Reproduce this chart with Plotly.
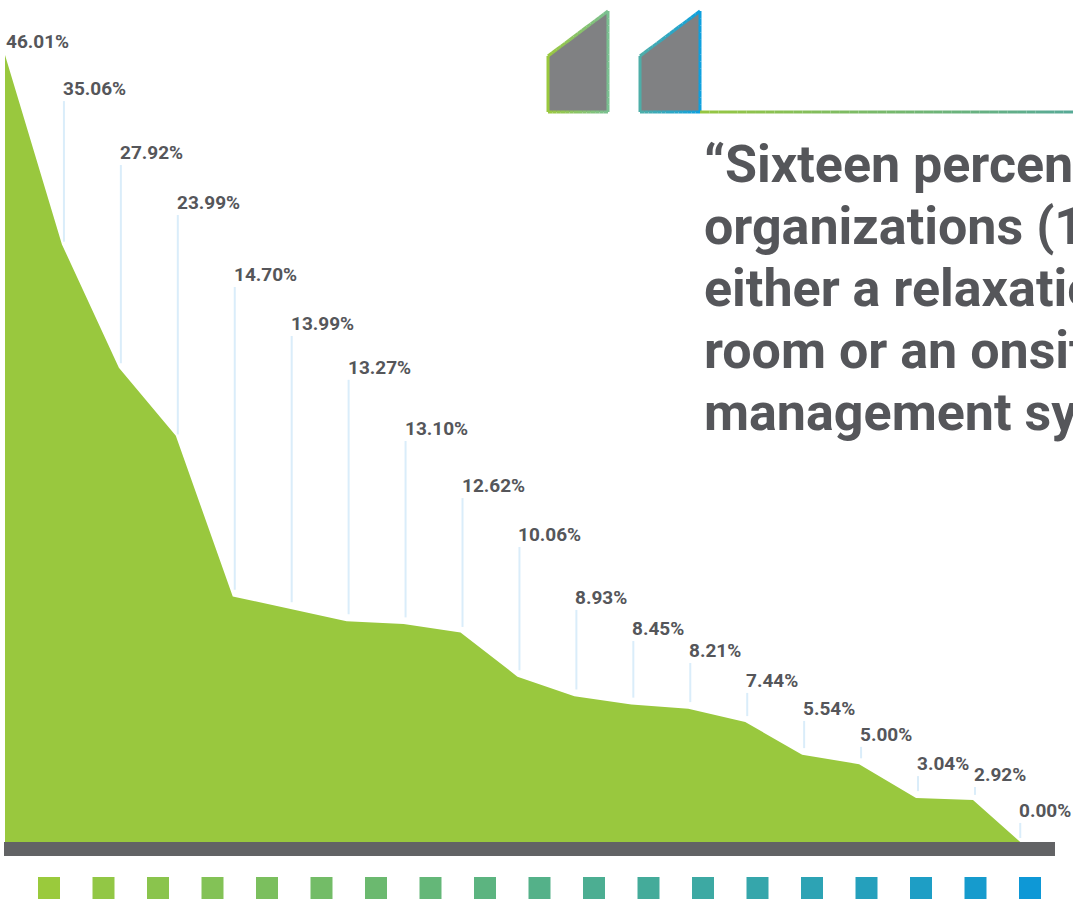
import numpy as np
import plotly.graph_objects as go

# ---------------- data ----------------
values = [46.01, 35.06, 27.92, 23.99, 14.70, 13.99, 13.27, 13.10, 12.62, 10.06,
          8.93, 8.45, 8.21, 7.44, 5.54, 5.00, 3.04, 2.92, 0.00]
value_labels = [f"{v:.2f}%" for v in values]
# staggered heights (in % units) at which each value label sits
label_levels = [46.01, 43.35, 39.65, 36.76, 32.6, 29.77, 27.23, 23.69, 20.39, 17.56,
                13.92, 12.12, 10.85, 9.12, 7.5, 6.0, 4.31, 3.68, 1.6]
quote_lines = ["“Sixteen percent of",
               "organizations (16%) offer",
               "either a relaxation",
               "room or an onsite stress",
               "management system.”"]

# ---------------- layout helpers ----------------
W, H = 1073, 901
X0_PX, DX_PX = 5.0, 56.94          # pixel of first point, pixel step between points
Y0_PX, DY_PX = 850.6, 17.29        # pixel of 0%, pixels per 1%


def px(x):
    return x / W


def py(y):
    return 1 - y / H


def lerp(c1, c2, t):
    return "rgb({},{},{})".format(*[int(round(a + (b - a) * t)) for a, b in zip(c1, c2)])


GREEN = "#99c83e"
TEXT = "#55565a"
xs = list(range(len(values)))

fig = go.Figure()
fig.add_trace(go.Scatter(
    x=xs, y=values, mode="lines", fill="tozeroy",
    line=dict(width=0, color=GREEN), fillcolor=GREEN,
    hoverinfo="skip", showlegend=False))

shapes = []
annotations = []

# guide lines + value labels
for i, (v, lab, lev) in enumerate(zip(values, value_labels, label_levels)):
    if i == 0:
        annotations.append(dict(x=0, y=lev, xref="x", yref="y", text=f"<b>{lab}</b>",
                                showarrow=False, xanchor="left", yanchor="bottom",
                                xshift=-1, font=dict(family="Roboto", size=19, color=TEXT)))
        continue
    gx = i + 0.035 if i < len(values) - 1 else i - 0.17
    area_v = float(np.interp(gx, xs, values))
    bottom = area_v + 7 / DY_PX
    if i == len(values) - 1:
        bottom = (Y0_PX - 838) / DY_PX
    shapes.append(dict(type="line", xref="x", yref="y", x0=gx, x1=gx, y0=bottom, y1=lev,
                       line=dict(color="#daedfa", width=2), layer="above"))
    annotations.append(dict(x=gx, y=lev, xref="x", yref="y", text=f"<b>{lab}</b>",
                            showarrow=False, xanchor="left", yanchor="bottom",
                            xshift=-3, yshift=-1,
                            font=dict(family="Roboto", size=19, color=TEXT)))

# dark base bar
shapes.append(dict(type="rect", xref="paper", yref="paper",
                   x0=px(4), x1=px(1055), y0=py(856), y1=py(842),
                   fillcolor="#626365", line=dict(width=0), layer="above"))

# gradient squares at the bottom
c_start, c_end = (154, 202, 60), (14, 152, 214)
n = len(values)
for k in range(n):
    x0 = 38 + 54.5 * k
    shapes.append(dict(type="rect", xref="paper", yref="paper",
                       x0=px(x0), x1=px(x0 + 22), y0=py(899), y1=py(877),
                       fillcolor=lerp(c_start, c_end, k / (n - 1)), line=dict(width=0)))


# quote-mark glyphs
def glyph(xl, xr, c1, c2):
    pts = [(xl, 112), (xl, 56), (xr, 11), (xr, 112)]
    path = "M " + " L ".join(f"{px(a)},{py(b)}" for a, b in pts) + " Z"
    shapes.append(dict(type="path", xref="paper", yref="paper", path=path,
                       fillcolor="#808183", line=dict(width=0)))
    edges = [(pts[0], pts[1]), (pts[1], pts[2]), (pts[2], pts[3]), (pts[3], pts[0])]
    for (ax, ay), (bx, by) in edges:
        segs = 14
        for s in range(segs):
            t0, t1 = s / segs, (s + 1) / segs
            sx0, sy0 = ax + (bx - ax) * t0, ay + (by - ay) * t0
            sx1, sy1 = ax + (bx - ax) * t1, ay + (by - ay) * t1
            tm = ((sx0 + sx1) / 2 - xl) / (xr - xl)
            shapes.append(dict(type="line", xref="paper", yref="paper",
                               x0=px(sx0), y0=py(sy0), x1=px(sx1), y1=py(sy1),
                               line=dict(color=lerp(c1, c2, tm), width=3)))


glyph(548, 608, (154, 200, 62), (122, 192, 145))
glyph(640, 700, (78, 174, 168), (14, 160, 222))

# gradient rule to the right of the glyphs
segs = 40
for s in range(segs):
    a = 700 + (1073 - 700) * s / segs
    b = 700 + (1073 - 700) * (s + 1) / segs
    shapes.append(dict(type="line", xref="paper", yref="paper",
                       x0=px(a), x1=px(b), y0=py(112), y1=py(112),
                       line=dict(color=lerp((150, 198, 66), (88, 170, 150), s / (segs - 1)), width=3)))

# quote text
for j, line in enumerate(quote_lines):
    base = 184 + 62 * j
    annotations.append(dict(x=px(702), y=py(base), xref="paper", yref="paper",
                            text=f"<b>{line}</b>", showarrow=False,
                            xanchor="left", yanchor="bottom", yshift=-13,
                            font=dict(family="Roboto", size=52, color=TEXT)))

fig.update_layout(
    width=W, height=H,
    margin=dict(l=0, r=0, t=0, b=0, pad=0),
    paper_bgcolor="white", plot_bgcolor="white",
    xaxis=dict(visible=False, range=[-X0_PX / DX_PX, (W - X0_PX) / DX_PX], fixedrange=True),
    yaxis=dict(visible=False, range=[-(H - Y0_PX) / DY_PX, Y0_PX / DY_PX], fixedrange=True),
    shapes=shapes, annotations=annotations, showlegend=False,
)

fig.write_html("out.html", config={"displayModeBar": False},
               post_script="document.body.style.margin='0';document.body.style.overflow='hidden';")
